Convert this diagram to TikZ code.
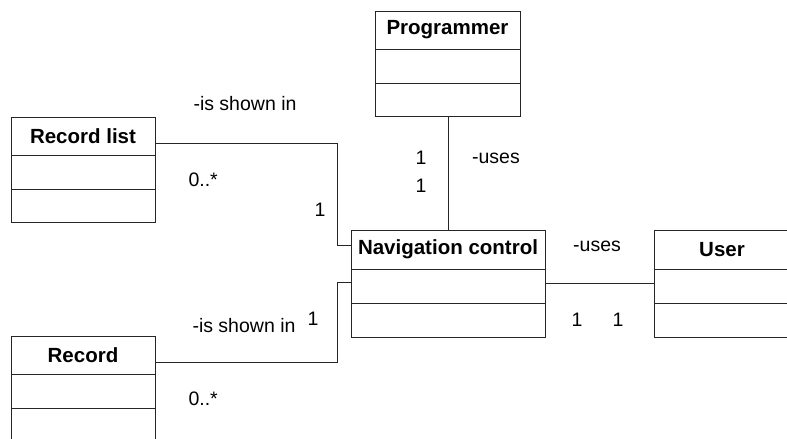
\documentclass[tikz,border=0pt]{standalone}
\usepackage{fontspec}
\setmainfont{Liberation Sans}
\begin{document}
\begin{tikzpicture}[x=1pt,y=-1pt,
  line width=1pt,
  classbox/.style={draw=black!85, fill=white, inner sep=0pt, anchor=north west},
  title/.style={font=\fontsize{20.5}{22}\selectfont\bfseries, inner sep=0pt},
  lbl/.style={font=\fontsize{19.5}{21}\selectfont, inner sep=0pt},
  assoc/.style={draw=black!85, line width=0.9pt}
]
\useasboundingbox (0,0) rectangle (787,439);

% class boxes: outline node, title, and the two compartment dividers
% Programmer
\node[classbox, minimum width=145pt, minimum height=105pt] (prog) at (375,11) {};
\node[title] (progT) at (447.5,30) {Programmer};
\draw[black!85] (375,49) -- (520,49) (375,83) -- (520,83);

% Record list
\node[classbox, minimum width=144pt, minimum height=105pt] (rlist) at (11,117) {};
\node[title] (rlistT) at (83,136) {Record list};
\draw[black!85] (11,155) -- (155,155) (11,189) -- (155,189);

% Navigation control
\node[classbox, minimum width=194pt, minimum height=107pt] (nav) at (351,230) {};
\node[title] (navT) at (448,249.5) {Navigation control};
\draw[black!85] (351,269) -- (545,269) (351,303) -- (545,303);

% User
\node[classbox, minimum width=136pt, minimum height=107pt] (user) at (654,230) {};
\node[title] (userT) at (722,249.5) {User};
\draw[black!85] (654,269) -- (790,269) (654,303) -- (790,303);

% Record
\node[classbox, minimum width=144pt, minimum height=105pt] (rec) at (11,336) {};
\node[title] (recT) at (83,355) {Record};
\draw[black!85] (11,374) -- (155,374) (11,408) -- (155,408);

% associations
\coordinate (bendA) at (337,143);
\coordinate (bendB) at (337,245);
\draw[assoc] (rlist.east |- bendA) -- (bendA) -- (bendB) -- (nav.west |- bendB);
\draw[assoc] (prog.south -| 448,0) -- (nav.north -| 448,0);
\coordinate (navR) at (545,283);
\draw[assoc] (navR) -- (user.west |- navR);
\coordinate (bendC) at (337,282);
\coordinate (bendD) at (337,362);
\draw[assoc] (nav.west |- bendC) -- (bendC) -- (bendD) -- (rec.east |- bendD);

% association labels and multiplicities
\node[lbl] (l1) at (245,104) {-is shown in};
\node[lbl, anchor=west] (l2) at (188,180) {0..*};
\node[lbl] (l3) at (320,210) {1};
\node[lbl] (l4) at (421,158) {1};
\node[lbl] (l5) at (421,186) {1};
\node[lbl] (l6) at (496,158) {-uses};
\node[lbl] (l7) at (597,246) {-uses};
\node[lbl] (l8) at (577,320) {1};
\node[lbl] (l9) at (618,320) {1};
\node[lbl] (l10) at (244,326) {-is shown in};
\node[lbl] (l11) at (313,319) {1};
\node[lbl, anchor=west] (l12) at (188,399) {0..*};
\end{tikzpicture}
\end{document}
